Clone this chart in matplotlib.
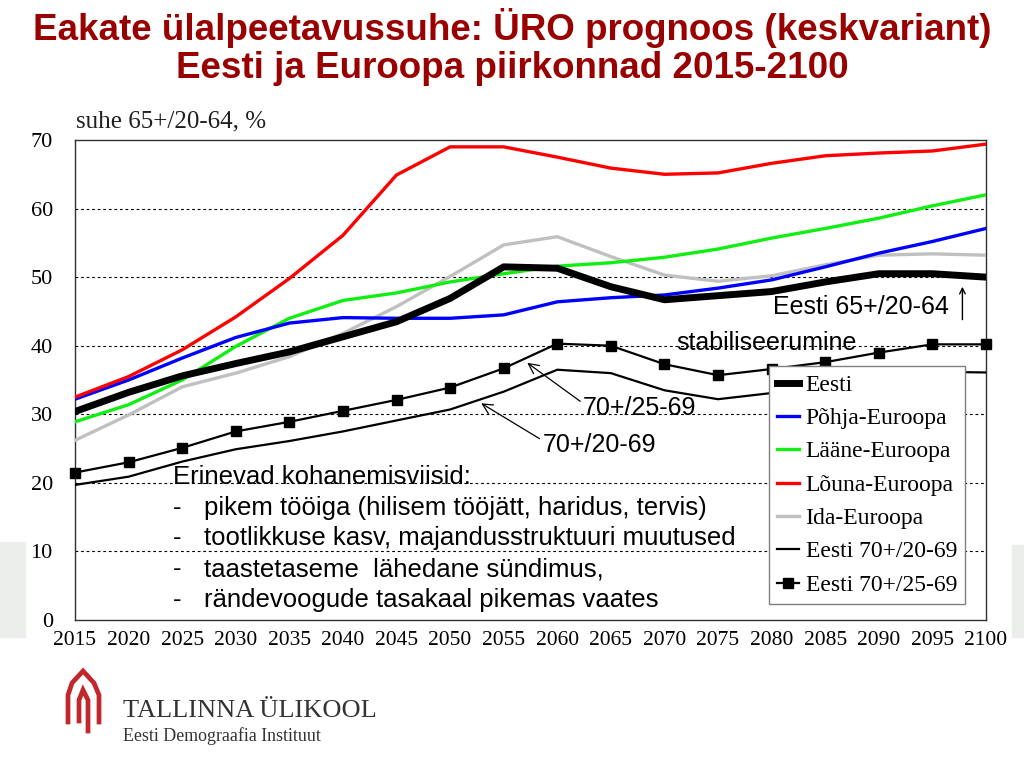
import matplotlib
matplotlib.use("Agg")
import matplotlib.pyplot as plt
from matplotlib.patches import Rectangle
from matplotlib.lines import Line2D

years = [2015, 2020, 2025, 2030, 2035, 2040, 2045, 2050, 2055, 2060,
         2065, 2070, 2075, 2080, 2085, 2090, 2095, 2100]

eesti = [30.4, 33.2, 35.6, 37.4, 39.1, 41.3, 43.5, 46.9, 51.5, 51.3,
         48.6, 46.7, 47.3, 47.9, 49.3, 50.5, 50.5, 50.0]
pohja = [32.2, 35.0, 38.2, 41.2, 43.3, 44.1, 44.0, 44.0, 44.5, 46.4,
         47.0, 47.4, 48.4, 49.6, 51.5, 53.5, 55.2, 57.1]
laane = [28.9, 31.4, 35.0, 39.9, 44.0, 46.6, 47.7, 49.3, 50.5, 51.6,
         52.1, 52.9, 54.1, 55.7, 57.1, 58.6, 60.4, 62.0]
louna = [32.5, 35.5, 39.4, 44.2, 49.8, 56.1, 64.9, 69.0, 69.0, 67.5,
         65.9, 65.0, 65.2, 66.6, 67.7, 68.1, 68.4, 69.4]
ida = [26.2, 29.9, 34.0, 36.0, 38.4, 41.8, 45.7, 50.1, 54.7, 55.9,
       53.0, 50.3, 49.4, 50.2, 51.8, 53.2, 53.4, 53.2]
eesti_70_2069 = [19.7, 20.9, 23.1, 24.9, 26.1, 27.5, 29.1, 30.7, 33.3, 36.5,
                 36.0, 33.5, 32.2, 33.1, 34.5, 35.8, 36.2, 36.1]
eesti_70_2569 = [21.5, 23.0, 25.1, 27.5, 28.9, 30.5, 32.1, 33.9, 36.7, 40.3,
                 40.0, 37.3, 35.7, 36.6, 37.6, 39.0, 40.2, 40.2]

labels = ["Eesti", "Põhja-Euroopa", "Lääne-Euroopa", "Lõuna-Euroopa",
          "Ida-Euroopa", "Eesti 70+/20-69", "Eesti 70+/25-69"]
yticks = [0, 10, 20, 30, 40, 50, 60, 70]

W, H = 1024, 768
def fx(x):
    return x / W
def fy(y):
    return 1 - y / H

fig = plt.figure(figsize=(10.24, 7.68), dpi=100)
fig.patch.set_facecolor("white")

# slide background bands at the edges
fig.patches.append(Rectangle((0, fy(637)), fx(25), (637 - 542) / H,
                             transform=fig.transFigure, color="#eceeec", zorder=-10))
fig.patches.append(Rectangle((fx(1012), fy(637)), fx(12), (637 - 545) / H,
                             transform=fig.transFigure, color="#eceeec", zorder=-10))

ax = fig.add_axes([fx(75), fy(620), fx(986 - 75), (620 - 140) / H])

serif = "Liberation Serif"
sans = "Liberation Sans"

l_ida, = ax.plot(years, ida, color="#c0c0c0", lw=2.4, zorder=3)
l_laane, = ax.plot(years, laane, color="#11ee11", lw=2.4, zorder=4)
l_pohja, = ax.plot(years, pohja, color="#0000ff", lw=2.4, zorder=5)
l_louna, = ax.plot(years, louna, color="#ff0000", lw=2.4, zorder=5)
l_20, = ax.plot(years, eesti_70_2069, color="black", lw=1.6, zorder=6)
l_25, = ax.plot(years, eesti_70_2569, color="black", lw=1.6, marker="s",
                markersize=6.5, zorder=6, clip_on=False)
l_eesti, = ax.plot(years, eesti, color="black", lw=5, zorder=7)

ax.set_xlim(2015, 2100)
ax.set_ylim(0, 70)
ax.set_xticks(years)
ax.set_xticklabels([str(y) for y in years], fontfamily=serif, fontsize=15.5)
ax.set_yticks(yticks)
ax.set_yticklabels([str(v) for v in yticks], fontfamily=serif, fontsize=16)
ax.tick_params(axis="both", length=0)
ax.tick_params(axis="x", pad=8)
ax.tick_params(axis="y", pad=16)
for s in ax.spines.values():
    s.set_color("#303030")
    s.set_linewidth(1.0)
for v in yticks[1:-1]:
    ax.axhline(v, color="black", lw=0.8, ls=(0, (2.5, 2.5)), zorder=1)

fig.text(fx(76), fy(121), "suhe 65+/20-64, %", fontfamily=serif, fontsize=18,
         ha="left", va="center", color="#202020")

leg = ax.legend([l_eesti, l_pohja, l_laane, l_louna, l_ida, l_20, l_25], labels,
                loc="upper left", bbox_to_anchor=(fx(769), fy(366)),
                bbox_transform=fig.transFigure, prop={"family": serif, "size": 17},
                frameon=True, fancybox=False, edgecolor="#808080", framealpha=1,
                handlelength=0.9, handletextpad=0.3, labelspacing=0.5,
                borderpad=0.35, borderaxespad=0)
leg.get_frame().set_linewidth(1.0)
leg.set_zorder(10)

# annotations
fs = 18.5
ax.text(2080.1, 45.6, "Eesti 65+/20-64", fontfamily=sans, fontsize=fs - 0.5,
        ha="left", va="center", zorder=12)
ax.annotate("", xy=(2097.8, 49.0), xytext=(2097.8, 43.4),
            arrowprops=dict(arrowstyle="->", color="black", lw=1.0), zorder=12)
ax.text(2071.1, 40.4, "stabiliseerumine", fontfamily=sans, fontsize=fs - 0.5,
        ha="left", va="center", zorder=12)
ax.annotate("70+/25-69", xy=(2057.2, 37.5), xytext=(2062.4, 30.9),
            fontfamily=sans, fontsize=fs - 0.5, ha="left", va="center", zorder=12,
            arrowprops=dict(arrowstyle="->", color="black", lw=0.9,
                            shrinkA=0, shrinkB=0, relpos=(0, 0.7)))
ax.annotate("70+/20-69", xy=(2052.9, 31.6), xytext=(2058.6, 25.5),
            fontfamily=sans, fontsize=fs - 0.5, ha="left", va="center", zorder=12,
            arrowprops=dict(arrowstyle="->", color="black", lw=0.9,
                            shrinkA=0, shrinkB=0, relpos=(0, 0.7)))

ax.text(2024.1, 20.9, "Erinevad kohanemisviisid:", fontfamily=sans, fontsize=fs,
        ha="left", va="center", zorder=12)
bullets = ["pikem tööiga (hilisem tööjätt, haridus, tervis)",
           "tootlikkuse kasv, majandusstruktuuri muutused",
           "taastetaseme  lähedane sündimus,",
           "rändevoogude tasakaal pikemas vaates"]
bullet_y = [16.4, 11.9, 7.4, 2.9]
for t, yv in zip(bullets, bullet_y):
    ax.text(2024.1, yv, "-", fontfamily=sans, fontsize=fs, ha="left", va="center", zorder=12)
    ax.text(2027.0, yv, t, fontfamily=sans, fontsize=fs, ha="left", va="center", zorder=12)

# title
tcol = "#990000"
fig.text(0.5, fy(28), "Eakate ülalpeetavussuhe: ÜRO prognoos (keskvariant)",
         fontfamily=sans, fontweight="bold", fontsize=26.5, color=tcol,
         ha="center", va="center")
fig.text(0.5, fy(68), "Eesti ja Euroopa piirkonnad 2015-2100",
         fontfamily=sans, fontweight="bold", fontsize=26.5, color=tcol,
         ha="center", va="center")

# logo
lcol = "#c1272d"
outer = [(68, 722), (68, 695), (72, 683), (83, 671), (94, 683), (99, 695), (99, 722)]
inner = [(79, 721), (79, 700), (83, 690), (88, 700), (88, 731)]
for pts in (outer, inner):
    fig.lines.append(Line2D([fx(p[0]) for p in pts], [fy(p[1]) for p in pts],
                            transform=fig.transFigure, color=lcol, lw=3.4,
                            solid_joinstyle="miter"))
fig.text(fx(123), fy(711), "TALLINNA ÜLIKOOL", fontfamily=serif, fontsize=19,
         color="#333333", ha="left", va="center")
fig.text(fx(123), fy(736), "Eesti Demograafia Instituut", fontfamily=serif,
         fontsize=12.9, color="#333333", ha="left", va="center")

fig.savefig("out.png", dpi=100)
